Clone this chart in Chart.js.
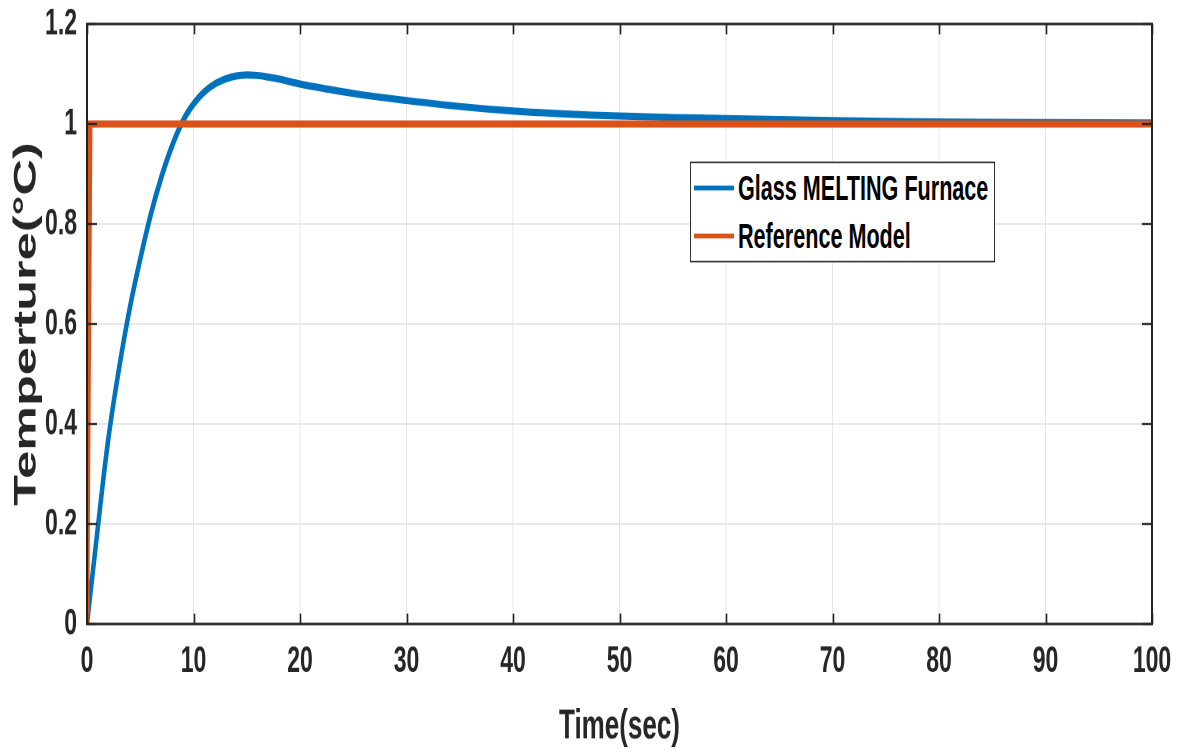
<!DOCTYPE html>
<html>
<head>
<meta charset="utf-8">
<script src="https://cdn.jsdelivr.net/npm/chart.js@4"></script>
<style>
  html, body { margin: 0; padding: 0; background: #fff; }
  body { width: 1186px; height: 752px; }
  /* the original figure is stretched vertically, so draw flat and stretch */
  #wrap { position: relative; width: 1186px; height: 470px; transform: scaleY(1.6); transform-origin: 0 0; }
  #chart { display: block; width: 1186px; height: 470px; }
  #legend {
    position: absolute; left: 690px; top: 100.5px; width: 303px; height: 61px;
    border: 1px solid #333; background: #fff;
    font-family: "Liberation Sans", Arial, sans-serif;
    font-weight: bold; font-size: 21.6px; color: #000;
  }
  .item { position: absolute; left: 3px; height: 20px; line-height: 20px; display: flex; align-items: center; white-space: nowrap; }
  .swatch { width: 40px; height: 3.8px; margin-right: 4px; }
</style>
</head>
<body>
<div id="wrap">
  <canvas id="chart" width="1186" height="470"></canvas>
  <div id="legend">
    <div class="item" style="top:6px"><span class="swatch" style="background:#0072BD"></span>Glass MELTING Furnace</div>
    <div class="item" style="top:36px"><span class="swatch" style="background:#D95319"></span>Reference Model</div>
  </div>
</div>
<script>
// Glass melting furnace step response
const furnaceTime = [0, 1, 2, 3, 4, 5, 6, 7, 8, 9, 10, 11, 12, 13, 14, 15, 16, 17, 18, 20, 22, 25, 30, 35, 40, 45, 50, 55, 60, 70, 80, 90, 100];
const furnaceTemp = [0, 0.19, 0.37, 0.51, 0.63, 0.73, 0.82, 0.895, 0.957, 1.006, 1.04, 1.064, 1.08, 1.09, 1.096, 1.098, 1.097, 1.094, 1.09, 1.08, 1.072, 1.061, 1.047, 1.035, 1.026, 1.02, 1.016, 1.013, 1.011, 1.007, 1.004, 1.003, 1.002];

// Reference model
const refTime = [0, 0.3, 100];
const refTemp = [0, 1, 1];

const xTicks = [0, 10, 20, 30, 40, 50, 60, 70, 80, 90, 100];
const yTicks = [0, 0.2, 0.4, 0.6, 0.8, 1, 1.2];

const toXY = (xs, ys) => xs.map((x, i) => ({ x, y: ys[i] }));

const sans = '"Liberation Sans", Arial, sans-serif';

// matlab style box with inward tick marks
const boxPlugin = {
  id: 'box',
  afterDatasetsDraw(chart) {
    const { ctx, chartArea: a, scales: { x, y } } = chart;
    ctx.save();
    ctx.strokeStyle = '#222';
    ctx.beginPath();
    ctx.lineWidth = 1.6;
    ctx.moveTo(a.left - 1, a.top); ctx.lineTo(a.right + 1, a.top);
    ctx.moveTo(a.left - 1, a.bottom); ctx.lineTo(a.right + 1, a.bottom);
    xTicks.forEach(t => {
      const px = Math.round(x.getPixelForValue(t)) + 0.5;
      ctx.moveTo(px, a.bottom); ctx.lineTo(px, a.bottom - 6.5);
      ctx.moveTo(px, a.top); ctx.lineTo(px, a.top + 6.5);
    });
    ctx.stroke();
    ctx.beginPath();
    ctx.lineWidth = 2;
    ctx.moveTo(a.left, a.top); ctx.lineTo(a.left, a.bottom);
    ctx.moveTo(a.right, a.top); ctx.lineTo(a.right, a.bottom);
    ctx.stroke();
    ctx.beginPath();
    ctx.lineWidth = 1.3;
    yTicks.forEach(t => {
      const py = y.getPixelForValue(t);
      ctx.moveTo(a.left, py); ctx.lineTo(a.left + 10, py);
      ctx.moveTo(a.right, py); ctx.lineTo(a.right - 10, py);
    });
    ctx.stroke();
    ctx.restore();
  }
};

new Chart(document.getElementById('chart'), {
  type: 'line',
  data: {
    datasets: [
      {
        label: 'Glass MELTING Furnace',
        data: toXY(furnaceTime, furnaceTemp),
        borderColor: '#0072BD', borderWidth: 4.5, order: 2,
        pointRadius: 0, tension: 0.4, fill: false
      },
      {
        label: 'Reference Model',
        data: toXY(refTime, refTemp),
        borderColor: '#D95319', borderWidth: 4.5, order: 1,
        pointRadius: 0, tension: 0, fill: false
      }
    ]
  },
  options: {
    responsive: false,
    animation: false,
    devicePixelRatio: 2,
    layout: { padding: { top: 15, right: 34, left: 0, bottom: 0 } },
    plugins: { legend: { display: false }, tooltip: { enabled: false } },
    scales: {
      x: {
        type: 'linear', min: 0, max: 100,
        afterBuildTicks: s => { s.ticks = xTicks.map(v => ({ value: v })); },
        afterFit: s => { s.height = 80; },
        grid: { color: '#e6e6e6', lineWidth: 1, drawTicks: false },
        border: { display: false },
        ticks: { color: '#262626', padding: 10, maxRotation: 0, font: { family: sans, size: 23, weight: 'bold' } },
        title: {
          display: true, text: 'Time(sec)', color: '#262626', padding: { top: 0, bottom: 0 },
          font: { family: sans, size: 26, weight: 'bold' }
        }
      },
      y: {
        min: 0, max: 1.2,
        afterBuildTicks: s => { s.ticks = yTicks.map(v => ({ value: v })); },
        afterFit: s => { s.width = 87; s.paddingTop = 0; s.paddingBottom = 0; },
        grid: { color: '#e6e6e6', lineWidth: 1, drawTicks: false },
        border: { display: false },
        ticks: {
          color: '#262626', padding: 10,
          font: { family: sans, size: 23, weight: 'bold' },
          callback: v => String(+v.toFixed(1))
        },
        title: {
          display: true, text: 'Temperture(\u00B0C)', color: '#262626', padding: { top: 8, bottom: 0 },
          font: { family: sans, size: 31.5, weight: 'bold' }
        }
      }
    }
  },
  plugins: [boxPlugin]
});
</script>
</body>
</html>
